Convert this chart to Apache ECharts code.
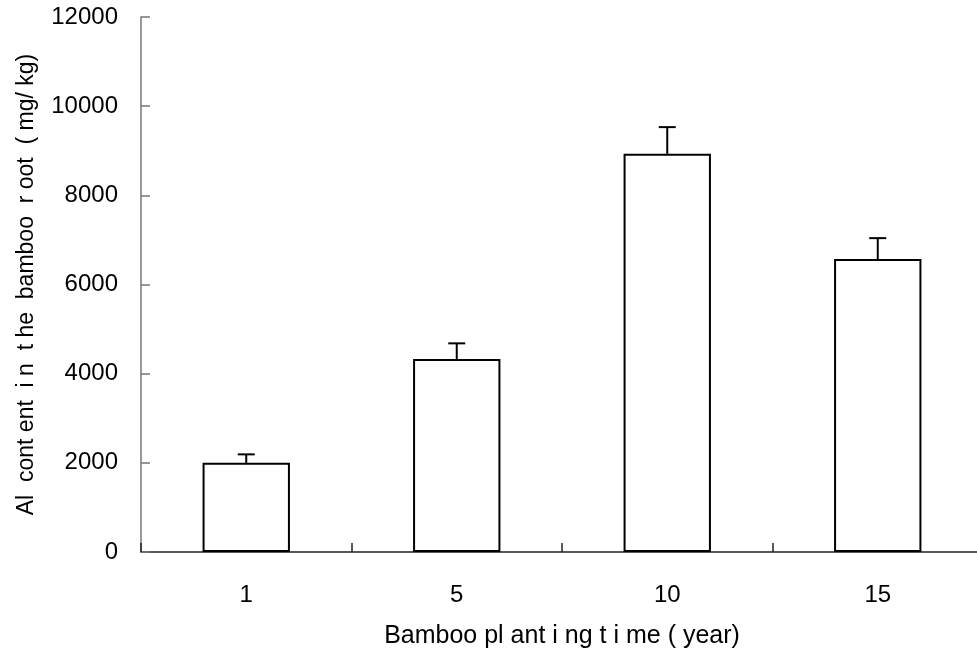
<!DOCTYPE html>
<html>
<head>
<meta charset="utf-8">
<script src="https://cdn.jsdelivr.net/npm/echarts@6/dist/echarts.min.js"></script>
<style>
  html, body { margin: 0; padding: 0; background: #fff; }
  #chart { width: 977px; height: 660px; }
</style>
</head>
<body>
<div id="chart"></div>
<script>
// Planting age of the bamboo stand (years)
const categories = ['1', '5', '10', '15'];
// Mean Al content in the root (mg/kg)
const meanValues = [2000, 4330, 8930, 6570];
// Upper error (standard deviation) for each mean
const errorValues = [190, 350, 600, 470];
// Y-axis ticks
const yTicks = [0, 2000, 4000, 6000, 8000, 10000, 12000];

const FONT = '"Liberation Sans", Arial, sans-serif';

const errorData = meanValues.map((m, i) => [i, m, m + errorValues[i]]);

const chart = echarts.init(document.getElementById('chart'), null, { renderer: 'canvas' });

chart.setOption({
  animation: false,
  backgroundColor: '#ffffff',
  grid: {
    left: 141, right: -6, top: 17, bottom: 108,
    containLabel: false,
    outerBoundsMode: 'none'
  },
  xAxis: {
    type: 'category',
    data: categories,
    name: 'Bamboo pl ant i ng t i me ( year)',
    nameLocation: 'middle',
    nameGap: 72,
    nameTextStyle: { fontFamily: FONT, fontSize: 25, color: '#000' },
    axisLine: { lineStyle: { color: '#222', width: 1.5 } },
    axisTick: { show: true, inside: true, length: 9, lineStyle: { color: '#222', width: 1.5 } },
    axisLabel: { fontFamily: FONT, fontSize: 24, color: '#000', margin: 31 },
    splitLine: { show: false }
  },
  yAxis: {
    type: 'value',
    min: yTicks[0],
    max: yTicks[yTicks.length - 1],
    interval: yTicks[1] - yTicks[0],
    name: 'Al  cont ent  i n  t he  bamboo  r oot  ( mg/ kg)',
    nameLocation: 'middle',
    nameGap: 103,
    nameTextStyle: { fontFamily: FONT, fontSize: 23, color: '#000' },
    axisLine: { show: true, lineStyle: { color: '#777', width: 1.5 } },
    axisTick: { show: true, inside: true, length: 9, lineStyle: { color: '#777', width: 1.5 } },
    axisLabel: {
      fontFamily: FONT, fontSize: 24, color: '#000', margin: 23,
      formatter: function (v) { return String(v); }
    },
    splitLine: { show: false }
  },
  series: [
    {
      type: 'bar',
      data: meanValues,
      barWidth: '41.5%',
      itemStyle: { color: '#ffffff', borderColor: '#000', borderWidth: 2 },
      z: 2
    },
    {
      type: 'custom',
      data: errorData,
      z: 3,
      renderItem: function (params, api) {
        const x = api.value(0);
        const base = api.coord([x, api.value(1)]);
        const top = api.coord([x, api.value(2)]);
        const half = 8.5;
        const style = { stroke: '#000', lineWidth: 2 };
        return {
          type: 'group',
          children: [
            { type: 'line', shape: { x1: base[0], y1: base[1], x2: top[0], y2: top[1] }, style: style },
            { type: 'line', shape: { x1: top[0] - half, y1: top[1], x2: top[0] + half, y2: top[1] }, style: style }
          ]
        };
      }
    }
  ]
});
</script>
</body>
</html>
